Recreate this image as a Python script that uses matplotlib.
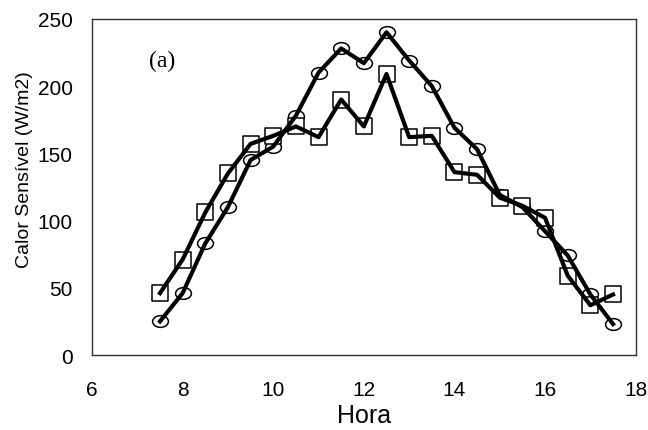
import matplotlib
matplotlib.use("Agg")
import matplotlib.pyplot as plt
from matplotlib.path import Path
from matplotlib.transforms import Affine2D

plt.rcParams['font.family'] = ['Liberation Sans', 'DejaVu Sans']

hora = [7.5, 8, 8.5, 9, 9.5, 10, 10.5, 11, 11.5, 12, 12.5,
        13, 13.5, 14, 14.5, 15, 15.5, 16, 16.5, 17, 17.5]
calor_circ = [25, 46, 83, 110, 145, 155, 178, 210, 228, 217, 240,
              219, 200, 169, 153, 119, 110, 92, 74, 45, 23]
calor_quad = [46, 71, 106, 135, 157, 163, 170, 162, 190, 170, 209,
              162, 163, 136, 134, 117, 111, 102, 59, 37, 45]

# elipse achatada para o marcador circular
elipse = Path.unit_circle().transformed(Affine2D().scale(1.35, 1.0))

fig = plt.figure(figsize=(6.48, 4.31), dpi=100)
ax = fig.add_axes([0.142, 0.174, 0.839, 0.780])

ax.plot(hora, calor_circ, color='black', lw=3.0, zorder=3)
ax.plot(hora, calor_quad, color='black', lw=3.0, zorder=3)
ax.scatter(hora, calor_circ, marker=elipse, s=130, facecolor='white',
           edgecolor='black', linewidth=1.1, zorder=2)
ax.scatter(hora, calor_quad, marker='s', s=125, facecolor='white',
           edgecolor='black', linewidth=1.1, zorder=2)

ax.set_xlim(6, 18)
ax.set_ylim(0, 250)
ax.set_xticks([6, 8, 10, 12, 14, 16, 18])
ax.set_yticks([0, 50, 100, 150, 200, 250])
ax.tick_params(length=0, labelsize=15)
ax.tick_params(axis='x', pad=18)
ax.tick_params(axis='y', pad=14)
for s in ax.spines.values():
    s.set_linewidth(1.0)
    s.set_color('#333333')

ax.set_xlabel('Hora', fontsize=18, labelpad=3)
ax.set_ylabel('Calor Sensível (W/m2)', fontsize=14)
ax.yaxis.set_label_coords(-0.108, 0.554)
ax.text(7.25, 215, '(a)', family='Liberation Serif', fontsize=17)

fig.savefig('out.png', dpi=100)
